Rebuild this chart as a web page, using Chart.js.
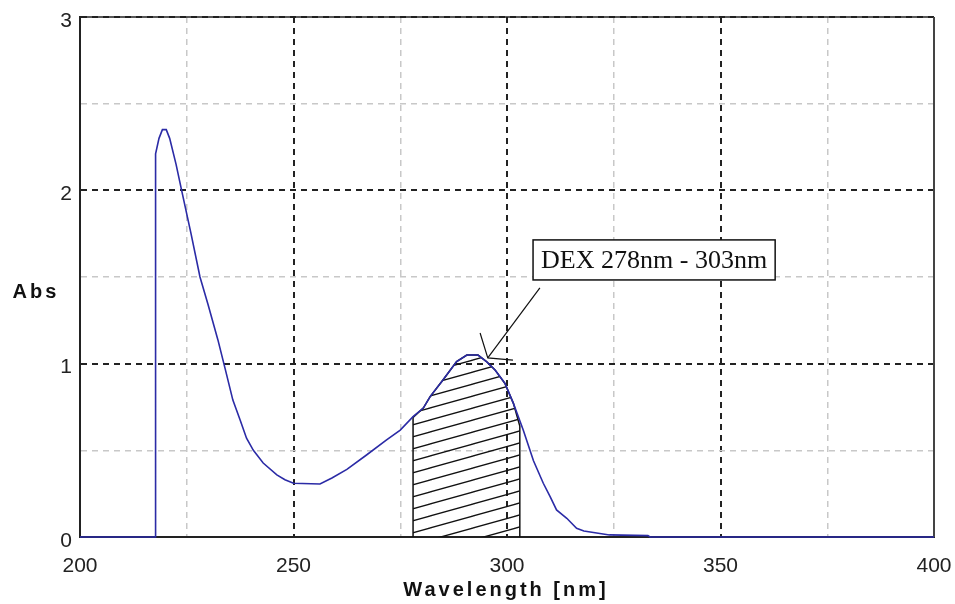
<!DOCTYPE html>
<html>
<head>
<meta charset="utf-8">
<script src="https://cdn.jsdelivr.net/npm/chart.js@4.4.3/dist/chart.umd.min.js"></script>
<style>
  html, body { margin: 0; padding: 0; background: #ffffff; }
  #wrap { width: 955px; height: 604px; }
</style>
</head>
<body>
<div id="wrap"><canvas id="spectrum" width="955" height="604"></canvas></div>
<script>
// absorbance spectrum
const wavelengths = [
  200, 217.6, 217.7, 218.5, 219.3, 220.2, 221, 222.5, 223.8, 226, 228.1, 230,
  232.3, 234, 235.8, 237.5, 239, 240.6, 242.9, 246.1, 248, 250, 256.2, 259,
  262.5, 267.1, 271.8, 275, 278, 280.4, 282, 285, 288.2, 290.6, 293.2, 295.2,
  297.2, 299.5, 301.5, 303.8, 306.2, 308.5, 310.1, 311.6, 314, 316.3, 318,
  324, 333, 333.5, 400,
];
const absorbance = [
  0, 0, 2.21, 2.3, 2.35, 2.35, 2.3, 2.15, 2.0, 1.75, 1.5, 1.34,
  1.137, 0.97, 0.79, 0.675, 0.57, 0.5, 0.427, 0.358, 0.33, 0.31, 0.306, 0.34,
  0.39, 0.473, 0.56, 0.617, 0.694, 0.744, 0.81, 0.906, 1.012, 1.05, 1.05, 1.012,
  0.964, 0.887, 0.771, 0.617, 0.44, 0.31, 0.233, 0.156, 0.108, 0.05, 0.035,
  0.012, 0.008, 0, 0,
];

// integrated band (hatched)
const hatchRange = [278, 303];
const hatchEdgeAbs = [0.69, 0.64];

// leader line from the label to the peak, plus the small marker strokes
const leaderWavelengths = [307.7, 295.5];
const leaderAbs = [1.437, 1.033];
const markWavelengths = [293.7, 295.5, 301.4];
const markAbs = [1.177, 1.033, 1.02];

const annotationText = "DEX 278nm - 303nm";
const annotationBoxX = [306.1, 362.8];
const annotationBoxY = [1.483, 1.714];

const xTicks = { min: 200, max: 400, step: 25, labelEvery: 50 };
const yTicks = { min: 0, max: 3, step: 0.5, labelEvery: 1 };

const canvas = document.getElementById("spectrum");

function toPoints(xs, ys) {
  return xs.map((x, i) => ({ x, y: ys[i] }));
}

function buildHatchPoints() {
  const [start, end] = hatchRange;
  const inside = toPoints(wavelengths, absorbance).filter(
    (p) => p.x > start && p.x < end
  );
  return [
    { x: start, y: 0 },
    { x: start, y: hatchEdgeAbs[0] },
    ...inside,
    { x: end, y: hatchEdgeAbs[1] },
    { x: end, y: 0 },
  ];
}

function makeHatchPattern() {
  const tile = document.createElement("canvas");
  const w = 43;
  const h = 12;
  tile.width = w;
  tile.height = h;
  const c = tile.getContext("2d");
  c.strokeStyle = "#111";
  c.lineWidth = 1.3;
  for (let k = -1; k <= 1; k++) {
    c.beginPath();
    c.moveTo(0, h + k * h);
    c.lineTo(w, k * h);
    c.stroke();
  }
  return canvas.getContext("2d").createPattern(tile, "repeat");
}

function isMultiple(value, every) {
  return Math.abs(value / every - Math.round(value / every)) < 1e-6;
}

const framePlugin = {
  id: "frame",
  beforeDatasetsDraw(chart) {
    const { ctx, chartArea } = chart;
    ctx.save();
    ctx.strokeStyle = "#222";
    ctx.lineWidth = 1.5;
    ctx.beginPath();
    ctx.moveTo(chartArea.left, chartArea.top);
    ctx.lineTo(chartArea.right, chartArea.top);
    ctx.stroke();
    ctx.strokeStyle = "#444";
    ctx.lineWidth = 2;
    ctx.beginPath();
    ctx.moveTo(chartArea.right, chartArea.top);
    ctx.lineTo(chartArea.right, chartArea.bottom);
    ctx.stroke();
    ctx.restore();
  },
  afterDraw(chart) {
    const { ctx } = chart;
    ctx.save();
    ctx.fillStyle = "#111";
    ctx.font = "bold 20px 'Liberation Sans', Arial, sans-serif";
    ctx.letterSpacing = "3px";
    ctx.textBaseline = "middle";
    ctx.textAlign = "center";
    ctx.fillText("Abs", 36, 292);
    ctx.fillText("Wavelength [nm]", 506, 590);
    ctx.restore();
  },
};

const annotationPlugin = {
  id: "annotationBox",
  afterDatasetsDraw(chart) {
    const { ctx, scales } = chart;
    const x1 = scales.x.getPixelForValue(annotationBoxX[0]);
    const x2 = scales.x.getPixelForValue(annotationBoxX[1]);
    const y1 = scales.y.getPixelForValue(annotationBoxY[1]);
    const y2 = scales.y.getPixelForValue(annotationBoxY[0]);
    ctx.save();
    ctx.fillStyle = "#ffffff";
    ctx.fillRect(x1, y1, x2 - x1, y2 - y1);
    ctx.strokeStyle = "#111";
    ctx.lineWidth = 1.5;
    ctx.strokeRect(x1, y1, x2 - x1, y2 - y1);
    ctx.fillStyle = "#111";
    ctx.font = "26px 'Liberation Serif', 'Times New Roman', serif";
    ctx.textAlign = "center";
    ctx.textBaseline = "middle";
    ctx.fillText(annotationText, (x1 + x2) / 2, (y1 + y2) / 2 + 1);
    ctx.restore();
  },
};

function gridColor(every) {
  return (context) =>
    context.tick && isMultiple(context.tick.value, every) ? "#222" : "#c8c8c8";
}

function gridWidth(every) {
  return (context) =>
    context.tick && isMultiple(context.tick.value, every) ? 2 : 1.5;
}

const tickFont = { family: "'Liberation Sans', Arial, sans-serif", size: 21 };

new Chart(canvas, {
  type: "scatter",
  data: {
    datasets: [
      {
        label: "Spectrum",
        data: toPoints(wavelengths, absorbance),
        showLine: true,
        borderColor: "#2b2ba6",
        borderWidth: 1.6,
        pointRadius: 0,
        tension: 0,
        clip: 4,
        order: 0,
      },
      {
        label: "DEX band",
        data: buildHatchPoints(),
        showLine: true,
        borderColor: "#111",
        borderWidth: 1.5,
        backgroundColor: makeHatchPattern(),
        fill: "origin",
        pointRadius: 0,
        tension: 0,
        order: 1,
      },
      {
        label: "Leader",
        data: toPoints(leaderWavelengths, leaderAbs),
        showLine: true,
        borderColor: "#111",
        borderWidth: 1.2,
        pointRadius: 0,
        order: 2,
      },
      {
        label: "Marker",
        data: toPoints(markWavelengths, markAbs),
        showLine: true,
        borderColor: "#111",
        borderWidth: 1.2,
        pointRadius: 0,
        order: 2,
      },
    ],
  },
  options: {
    responsive: false,
    animation: false,
    layout: { padding: { left: 0, top: 17, right: 21, bottom: 0 } },
    plugins: {
      legend: { display: false },
      tooltip: { enabled: false },
    },
    scales: {
      x: {
        type: "linear",
        min: xTicks.min,
        max: xTicks.max,
        afterFit(scale) {
          scale.height = 67;
          scale.paddingLeft = 0;
          scale.paddingRight = 0;
        },
        ticks: {
          stepSize: xTicks.step,
          autoSkip: false,
          maxRotation: 0,
          padding: 17,
          color: "#222",
          font: tickFont,
          callback: (value) => (isMultiple(value, xTicks.labelEvery) ? value : ""),
        },
        grid: {
          drawTicks: false,
          color: gridColor(xTicks.labelEvery),
          lineWidth: gridWidth(xTicks.labelEvery),
        },
        border: { display: true, color: "#222", width: 2, dash: [6, 5] },
      },
      y: {
        type: "linear",
        min: yTicks.min,
        max: yTicks.max,
        afterFit(scale) {
          scale.width = 80;
          scale.paddingTop = 0;
          scale.paddingBottom = 0;
        },
        ticks: {
          stepSize: yTicks.step,
          autoSkip: false,
          padding: 8,
          labelOffset: 4,
          color: "#222",
          font: tickFont,
          callback: (value) => (isMultiple(value, yTicks.labelEvery) ? value : ""),
        },
        grid: {
          drawTicks: false,
          color: gridColor(yTicks.labelEvery),
          lineWidth: gridWidth(yTicks.labelEvery),
        },
        border: { display: true, color: "#222", width: 2, dash: [6, 5] },
      },
    },
  },
  plugins: [framePlugin, annotationPlugin],
});
</script>
</body>
</html>
